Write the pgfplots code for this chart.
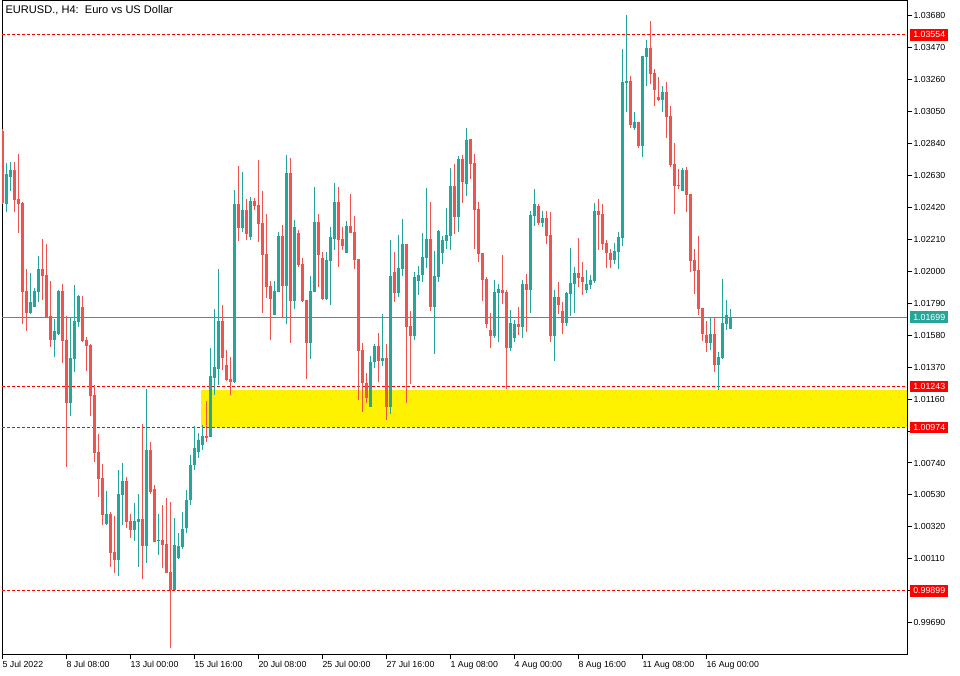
\documentclass[border=0pt]{standalone}
\usepackage{fontspec}
\setmainfont{Liberation Sans}
\usepackage{pgfplots}
\usepackage{pgfplotstable}
\pgfplotsset{compat=1.18}
\definecolor{bull}{HTML}{26A69A}
\definecolor{bear}{HTML}{EF5350}
\definecolor{lvl}{HTML}{FF0000}

% EURUSD H4 candles: index, open, high, low, close
\pgfplotstableread{
i o h l c
0 1.02922 1.02935 1.02442 1.02449
1 1.02444 1.02714 1.02392 1.02638
2 1.02622 1.02718 1.02530 1.02666
3 1.02666 1.02718 1.02392 1.02471
4 1.02475 1.02771 1.02254 1.02444
5 1.02449 1.02456 1.01654 1.01866
6 1.01871 1.02015 1.01610 1.01728
7 1.01728 1.01989 1.01719 1.01798
8 1.01767 1.01890 1.01765 1.01871
9 1.01866 1.02101 1.01800 1.02015
10 1.02015 1.02212 1.01813 1.01971
11 1.01976 1.02179 1.01693 1.01695
12 1.01704 1.01936 1.01504 1.01550
13 1.01550 1.01686 1.01439 1.01608
14 1.01588 1.01879 1.01581 1.01872
15 1.01872 1.01917 1.01399 1.01544
16 1.01548 1.01706 1.00716 1.01136
17 1.01136 1.01695 1.01051 1.01430
18 1.01426 1.01910 1.01340 1.01675
19 1.01669 1.01844 1.01636 1.01838
20 1.01765 1.01838 1.01533 1.01542
21 1.01548 1.01568 1.01347 1.01511
22 1.01518 1.01524 1.01051 1.01182
23 1.01187 1.01253 1.00748 1.00808
24 1.00812 1.00931 1.00518 1.00635
25 1.00641 1.00733 1.00332 1.00398
26 1.00339 1.00556 1.00332 1.00405
27 1.00405 1.00416 1.00058 1.00150
28 1.00155 1.00392 1.00019 1.00102
29 1.00102 1.00692 0.99999 1.00536
30 1.00530 1.00740 1.00332 1.00622
31 1.00622 1.00648 1.00315 1.00352
32 1.00359 1.00403 1.00249 1.00300
33 1.00300 1.00477 1.00229 1.00359
34 1.00352 1.00536 1.00058 1.00372
35 1.00372 1.00996 0.99979 1.00196
36 1.00196 1.01226 1.00085 1.00825
37 1.00825 1.00878 1.00538 1.00549
38 1.00569 1.00595 1.00223 1.00223
39 1.00227 1.00405 1.00137 1.00237
40 1.00236 1.00464 1.00052 1.00203
41 1.00210 1.00510 1.00019 1.00019
42 1.00023 1.00486 0.99526 0.99907
43 0.99907 1.00380 0.99907 1.00203
44 1.00117 1.00280 1.00111 1.00196
45 1.00190 1.00420 1.00177 1.00308
46 1.00313 1.00562 1.00280 1.00497
47 1.00497 1.00793 1.00464 1.00727
48 1.00727 1.00983 1.00694 1.00839
49 1.00812 1.00939 1.00773 1.00891
50 1.00858 1.00990 1.00825 1.00917
51 1.00917 1.01149 1.00878 1.00908
52 1.00913 1.01496 1.00913 1.01312
53 1.01299 1.01752 1.01189 1.01371
54 1.01358 1.02015 1.01253 1.01673
55 1.01673 1.01778 1.01351 1.01430
56 1.01384 1.01483 1.01281 1.01286
57 1.01292 1.01437 1.01187 1.01272
58 1.01272 1.02534 1.01266 1.02442
59 1.02442 1.02692 1.02199 1.02286
60 1.02286 1.02653 1.02258 1.02403
61 1.02403 1.02475 1.02206 1.02245
62 1.02225 1.02488 1.02206 1.02462
63 1.02462 1.02482 1.02403 1.02429
64 1.02436 1.02732 1.02193 1.02311
65 1.02317 1.02528 1.01726 1.02107
66 1.02114 1.02377 1.01824 1.01897
67 1.01903 1.01936 1.01548 1.01815
68 1.01713 1.01936 1.01713 1.01871
69 1.01866 1.02258 1.01866 1.02232
70 1.02232 1.02304 1.01700 1.01903
71 1.01903 1.02764 1.01654 1.02646
72 1.02646 1.02745 1.01529 1.01805
73 1.01805 1.02337 1.01752 1.02291
74 1.02252 1.02271 1.02028 1.02041
75 1.02048 1.02087 1.01798 1.01805
76 1.01811 1.01811 1.01292 1.01529
77 1.01529 1.01969 1.01424 1.01871
78 1.01864 1.02554 1.01864 1.02324
79 1.02324 1.02377 1.01897 1.02107
80 1.02087 1.02127 1.01811 1.01818
81 1.01818 1.02127 1.01811 1.02074
82 1.02068 1.02291 1.01778 1.02225
83 1.02212 1.02580 1.02140 1.02456
84 1.02456 1.02554 1.02028 1.02206
85 1.02212 1.02291 1.02140 1.02166
86 1.02120 1.02331 1.02120 1.02298
87 1.02298 1.02508 1.02252 1.02252
88 1.02258 1.02363 1.02015 1.02074
89 1.02081 1.02081 1.01154 1.01476
90 1.01483 1.01529 1.01075 1.01266
91 1.01268 1.01333 1.01136 1.01169
92 1.01110 1.01443 1.01110 1.01404
93 1.01404 1.01522 1.01364 1.01509
94 1.01509 1.01594 1.01274 1.01410
95 1.01410 1.01719 1.01380 1.01430
96 1.01430 1.01522 1.01023 1.01110
97 1.01110 1.02206 1.01064 1.01969
98 1.01995 1.02127 1.01800 1.01859
99 1.01859 1.02239 1.01833 1.02022
100 1.02017 1.02344 1.01971 1.02179
101 1.02179 1.02179 1.01136 1.01636
102 1.01640 1.01739 1.01261 1.01577
103 1.01577 1.01995 1.01550 1.01962
104 1.01938 1.02035 1.01846 1.01976
105 1.01978 1.02252 1.01932 1.02094
106 1.02089 1.02548 1.02024 1.02212
107 1.02212 1.02456 1.01741 1.01767
108 1.01767 1.02133 1.01458 1.01969
109 1.01964 1.02271 1.01932 1.02265
110 1.02122 1.02232 1.02050 1.02206
111 1.02201 1.02416 1.02145 1.02239
112 1.02234 1.02679 1.02140 1.02561
113 1.02561 1.02705 1.02247 1.02359
114 1.02359 1.02758 1.02260 1.02738
115 1.02738 1.02764 1.02451 1.02589
116 1.02576 1.02942 1.02497 1.02863
117 1.02870 1.02870 1.02609 1.02707
118 1.02712 1.02773 1.02149 1.02405
119 1.02409 1.02457 1.02063 1.02116
120 1.02120 1.02120 1.01807 1.01945
121 1.01951 1.01964 1.01629 1.01656
122 1.01616 1.01728 1.01498 1.01577
123 1.01577 1.01943 1.01564 1.01866
124 1.01859 1.01917 1.01537 1.01886
125 1.01879 1.02109 1.01787 1.01859
126 1.01866 1.01877 1.01228 1.01498
127 1.01498 1.01746 1.01478 1.01662
128 1.01564 1.01682 1.01537 1.01656
129 1.01656 1.01765 1.01583 1.01636
130 1.01636 1.01943 1.01564 1.01919
131 1.01919 1.01984 1.01603 1.01879
132 1.01879 1.02398 1.01728 1.02372
133 1.02365 1.02539 1.02300 1.02444
134 1.02431 1.02444 1.02306 1.02319
135 1.02317 1.02396 1.02291 1.02350
136 1.02350 1.02396 1.02181 1.02234
137 1.02239 1.02392 1.01537 1.01577
138 1.01577 1.01877 1.01412 1.01831
139 1.01831 1.01930 1.01721 1.01780
140 1.01739 1.01798 1.01590 1.01662
141 1.01662 1.01864 1.01642 1.01857
142 1.01853 1.02153 1.01708 1.01923
143 1.01919 1.02028 1.01728 1.01989
144 1.01989 1.02219 1.01899 1.01958
145 1.01964 1.02061 1.01846 1.01932
146 1.01879 1.02011 1.01859 1.01919
147 1.01912 1.01978 1.01886 1.01945
148 1.01938 1.02451 1.01925 1.02396
149 1.02396 1.02475 1.02142 1.02372
150 1.02377 1.02442 1.02142 1.02181
151 1.02186 1.02208 1.02024 1.02122
152 1.02122 1.02149 1.02024 1.02076
153 1.02076 1.02188 1.02050 1.02135
154 1.02129 1.02258 1.02017 1.02225
155 1.02221 1.03461 1.02168 1.03244
156 1.03240 1.03685 1.03049 1.03253
157 1.03253 1.03284 1.02944 1.02964
158 1.02942 1.03047 1.02929 1.02981
159 1.02981 1.02981 1.02812 1.02826
160 1.02826 1.03415 1.02753 1.03415
161 1.03411 1.03520 1.03220 1.03468
162 1.03468 1.03645 1.03233 1.03299
163 1.03303 1.03330 1.03088 1.03194
164 1.03146 1.03277 1.03121 1.03128
165 1.03128 1.03218 1.03049 1.03179
166 1.03179 1.03244 1.02878 1.03016
167 1.03021 1.03085 1.02688 1.02701
168 1.02707 1.02845 1.02379 1.02563
169 1.02569 1.02674 1.02543 1.02563
170 1.02530 1.02679 1.02530 1.02668
171 1.02668 1.02688 1.02392 1.02503
172 1.02510 1.02510 1.01997 1.02070
173 1.02076 1.02149 1.01853 1.02004
174 1.02011 1.02234 1.01715 1.01754
175 1.01761 1.01761 1.01544 1.01590
176 1.01583 1.01675 1.01472 1.01531
177 1.01531 1.01695 1.01485 1.01590
178 1.01590 1.01695 1.01340 1.01386
179 1.01386 1.01472 1.01220 1.01439
180 1.01432 1.01951 1.01426 1.01662
181 1.01656 1.01813 1.01616 1.01715
182 1.01623 1.01754 1.01623 1.01699
}\candles

\newcommand{\mtfont}{\fontsize{6.6}{7}\selectfont}

\begin{document}
\begin{tikzpicture}
\begin{axis}[
  at={(1.5pt,15.525pt)}, anchor=south west, scale only axis,
  width=678.975pt, height=489.975pt,
  xmin=-0.075, xmax=226.25, ymin=0.994825, ymax=1.037766,
  axis line style={line width=0.75pt, black},
  tick style={line width=0.75pt, black},
  tick align=outside, major tick length=3.75pt,
  xtick pos=bottom, ytick pos=right, yticklabel pos=right,
  xtick={0,16,...,176},
  xticklabels={5 Jul 2022, 8 Jul 08:00, 13 Jul 00:00, 15 Jul 16:00, 20 Jul 08:00, 25 Jul 00:00, 27 Jul 16:00, 1 Aug 08:00, 4 Aug 00:00, 8 Aug 16:00, 11 Aug 08:00, 16 Aug 00:00},
  ytick={0.99690,0.99900,1.00110,1.00320,1.00530,1.00740,1.00950,1.01160,1.01370,1.01580,1.01790,1.02000,1.02210,1.02420,1.02630,1.02840,1.03050,1.03260,1.03470,1.03680},
  yticklabels={0.99690,,1.00110,1.00320,1.00530,1.00740,,1.01160,1.01370,1.01580,1.01790,1.02000,1.02210,1.02420,1.02630,1.02840,1.03050,1.03260,1.03470,1.03680},
  tick label style={font=\mtfont, inner sep=0pt},
  xticklabel style={anchor=north west, yshift=-1pt},
  yticklabel style={anchor=west, xshift=0.75pt},
  /pgf/number format/assume math mode=true,
  candle/.style={draw=none, mark=none,
    error bars/.cd, y dir=both, y explicit, error mark=none},
]
% support / resistance zone
\addplot[fill=yellow, draw=none, forget plot] coordinates {(49.75,1.00979) (226.25,1.00979) (226.25,1.01220) (49.75,1.01220)} -- cycle;
% levels
\addplot[lvl, line width=0.75pt, dash pattern=on 2.25pt off 1.5pt] coordinates {(-0.075,1.03554) (226.25,1.03554)};
\addplot[lvl, line width=0.75pt, dash pattern=on 2.25pt off 1.5pt] coordinates {(-0.075,1.01243) (226.25,1.01243)};
\addplot[lvl, line width=0.75pt, dash pattern=on 2.25pt off 1.5pt] coordinates {(-0.075,1.00974) (226.25,1.00974)};
\addplot[lvl, line width=0.75pt, dash pattern=on 2.25pt off 1.5pt] coordinates {(-0.075,0.99899) (226.25,0.99899)};
\addplot[bull, line width=0.75pt] coordinates {(-0.075,1.01699) (226.25,1.01699)};
% wicks
\addplot[restrict expr to domain={\thisrow{c}-\thisrow{o}}{0:1},
  candle, error bar style={draw=bull, line width=0.75pt, solid}]
  table[x=i, y expr={(\thisrow{h}+\thisrow{l})/2}, y error expr={(\thisrow{h}-\thisrow{l})/2}] {\candles};
\addplot[restrict expr to domain={\thisrow{o}-\thisrow{c}}{0.0000001:1},
  candle, error bar style={draw=bear, line width=0.75pt, solid}]
  table[x=i, y expr={(\thisrow{h}+\thisrow{l})/2}, y error expr={(\thisrow{h}-\thisrow{l})/2}] {\candles};
% bodies
\addplot[restrict expr to domain={\thisrow{c}-\thisrow{o}}{0:1},
  candle, error bar style={draw=bull, line width=2.25pt, solid}]
  table[x=i, y expr={(\thisrow{o}+\thisrow{c})/2}, y error expr={max(abs(\thisrow{c}-\thisrow{o})/2,0.000033)}] {\candles};
\addplot[restrict expr to domain={\thisrow{o}-\thisrow{c}}{0.0000001:1},
  candle, error bar style={draw=bear, line width=2.25pt, solid}]
  table[x=i, y expr={(\thisrow{o}+\thisrow{c})/2}, y error expr={max(abs(\thisrow{c}-\thisrow{o})/2,0.000033)}] {\candles};
\coordinate (L1) at (axis cs:226.25,1.03554);
\coordinate (L2) at (axis cs:226.25,1.01699);
\coordinate (L3) at (axis cs:226.25,1.01243);
\coordinate (L4) at (axis cs:226.25,1.00974);
\coordinate (L5) at (axis cs:226.25,0.99899);
\coordinate (TL) at (rel axis cs:0,1);
\end{axis}
\tikzset{pl/.style={anchor=west, font=\mtfont, text=white, inner sep=0pt, minimum width=28.5pt, minimum height=8.6pt, xshift=2pt}}
\node[pl, fill=lvl] at (L1) {1.03554};
\node[pl, fill=bull] at (L2) {1.01699};
\node[pl, fill=lvl] at (L3) {1.01243};
\node[pl, fill=lvl] at (L4) {1.00974};
\node[pl, fill=lvl] at (L5) {0.99899};
\node[anchor=north west, font=\fontsize{8.3}{9}\selectfont, inner sep=0pt] at ([xshift=2.5pt,yshift=-3pt]TL) {EURUSD., H4:\ \ Euro vs US Dollar};
\pgfresetboundingbox
\path[use as bounding box] (0,0) rectangle (720pt,506.25pt);
\end{tikzpicture}
\end{document}
